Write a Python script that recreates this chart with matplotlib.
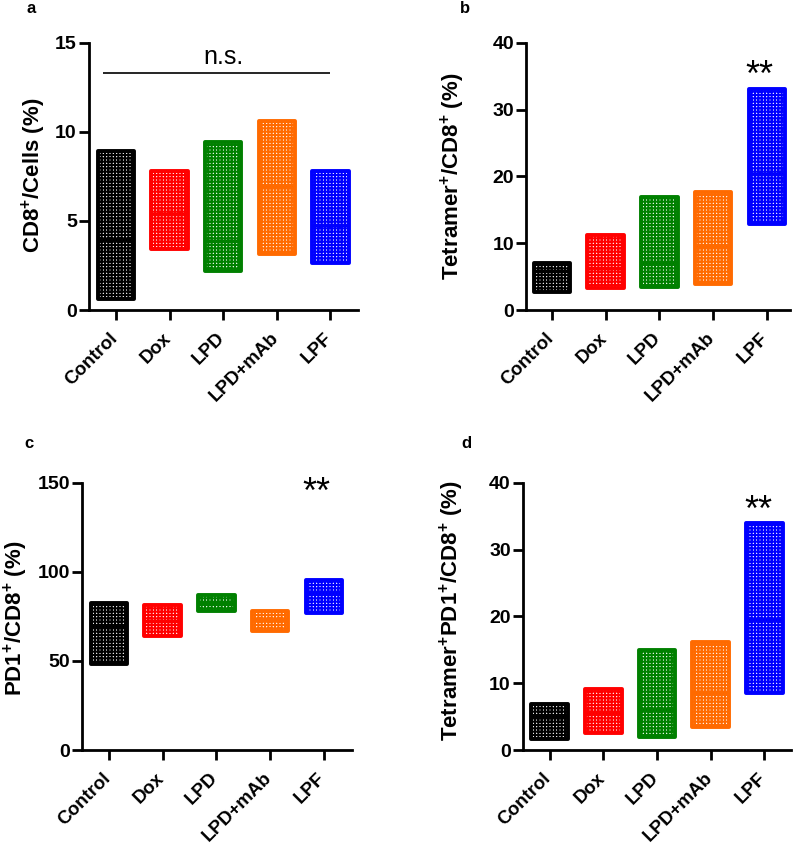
import matplotlib
matplotlib.use("Agg")
import matplotlib.pyplot as plt
import matplotlib.transforms as mtransforms
import numpy as np

plt.rcParams['font.family'] = ['Liberation Sans', 'DejaVu Sans']
plt.rcParams['mathtext.fontset'] = 'custom'
plt.rcParams['mathtext.rm'] = 'Liberation Sans:bold'
plt.rcParams['mathtext.bf'] = 'Liberation Sans:bold'
plt.rcParams['mathtext.default'] = 'bf'
plt.rcParams['hatch.linewidth'] = 1.5

groups = ["Control", "Dox", "LPD", "LPD+mAb", "LPF"]
colors = ["#000000", "#ff0000", "#008000", "#ff6a00", "#0000ff"]

# panel a: CD8+/Cells (%)
a_min = [0.6, 3.45, 2.2, 3.15, 2.65]
a_max = [8.9, 7.8, 9.45, 10.6, 7.8]
a_med = [3.95, 5.4, 3.9, 6.9, 4.75]

# panel b: Tetramer+/CD8+ (%)
b_min = [2.7, 3.3, 3.4, 3.9, 12.9]
b_max = [7.0, 11.2, 16.9, 17.6, 33.0]
b_med = [5.8, 6.3, 7.0, 9.6, 20.4]

# panel c: PD1+/CD8+ (%)
c_min = [48.5, 64.0, 77.8, 67.0, 77.0]
c_max = [82.5, 81.5, 87.2, 78.2, 95.5]
c_med = [69.5, 72.5, 82.5, 73.0, 88.5]

# panel d: Tetramer+PD1+/CD8+ (%)
d_min = [1.6, 2.5, 2.0, 3.5, 8.5]
d_max = [6.9, 9.1, 14.9, 16.2, 34.0]
d_med = [5.0, 5.7, 6.0, 8.7, 19.5]

fig = plt.figure(figsize=(7.96, 8.47), dpi=100)

panels = [
    dict(rect=[0.1114, 0.634, 0.3386, 0.3156], lo=a_min, hi=a_max, med=a_med,
         ylim=15, ticks=[0, 5, 10, 15], xlim=(-0.51, 4.52),
         ylabel=r'CD8$^{+}$/Cells (%)', letter='a', lpos=(0.033, 0.985),
         lab=(-0.15, 0.505)),
    dict(rect=[0.661, 0.634, 0.3315, 0.3156], lo=b_min, hi=b_max, med=b_med,
         ylim=40, ticks=[0, 10, 20, 30, 40], xlim=(-0.48, 4.43),
         ylabel=r'Tetramer$^{+}$/CD8$^{+}$ (%)', letter='b', lpos=(0.578, 0.985),
         lab=(-0.225, 0.5)),
    dict(rect=[0.1026, 0.1145, 0.3392, 0.3155], lo=c_min, hi=c_max, med=c_med,
         ylim=150, ticks=[0, 50, 100, 150], xlim=(-0.51, 4.52),
         ylabel=r'PD1$^{+}$/CD8$^{+}$ (%)', letter='c', lpos=(0.031, 0.471),
         lab=(-0.19, 0.494)),
    dict(rect=[0.6566, 0.1145, 0.3368, 0.3155], lo=d_min, hi=d_max, med=d_med,
         ylim=40, ticks=[0, 10, 20, 30, 40], xlim=(-0.50, 4.49),
         ylabel=r'Tetramer$^{+}$PD1$^{+}$/CD8$^{+}$ (%)', letter='d', lpos=(0.580, 0.471),
         lab=(-0.21, 0.52)),
]

x = np.arange(len(groups))
shift = mtransforms.ScaledTranslation(-5 / 72, -1.5 / 72, fig.dpi_scale_trans)
axes = []
for p in panels:
    ax = fig.add_axes(p['rect'])
    axes.append(ax)
    lo = np.array(p['lo']); hi = np.array(p['hi'])
    bars = ax.bar(x, hi - lo, bottom=lo, width=0.68, color='white',
                  edgecolor=colors, linewidth=2.8, hatch='+++++', zorder=2)
    for b in bars:
        b.set_joinstyle('round')
    for i in range(len(groups)):
        ax.hlines(p['med'][i], x[i] - 0.34, x[i] + 0.34, color=colors[i],
                  linewidth=2.5, zorder=3)
    ax.set_xlim(*p['xlim'])
    ax.set_ylim(0, p['ylim'])
    ax.set_yticks(p['ticks'])
    ax.set_xticks(x)
    ax.spines['top'].set_visible(False)
    ax.spines['right'].set_visible(False)
    ax.spines['left'].set_linewidth(2.0)
    ax.spines['bottom'].set_linewidth(2.0)
    ax.tick_params(axis='both', width=2.0, length=7.5)
    ax.tick_params(axis='y', pad=1)
    ax.tick_params(axis='x', pad=5)
    ax.set_xticklabels(groups, rotation=45, ha='right', va='top',
                       rotation_mode='anchor', fontsize=13.5, fontweight='bold')
    for lab in ax.get_xticklabels():
        lab.set_transform(lab.get_transform() + shift)
    for lab in ax.get_yticklabels():
        lab.set_fontweight('bold')
        lab.set_fontsize(14)
    ax.set_ylabel(p['ylabel'], fontsize=16, fontweight='bold')
    ax.yaxis.set_label_coords(*p['lab'])
    fig.text(p['lpos'][0], p['lpos'][1], p['letter'],
             fontsize=12, fontweight='bold', va='baseline')

# annotations
axes[0].hlines(13.3, -0.25, 4.0, color='black', linewidth=1.2)
axes[0].text(2.0, 14.2, 'n.s.', ha='center', va='center', fontsize=18)
axes[1].text(3.86, 35.0, '**', ha='center', va='center', fontsize=26)
axes[2].text(3.86, 144, '**', ha='center', va='center', fontsize=26)
axes[3].text(3.88, 35.7, '**', ha='center', va='center', fontsize=26)

fig.savefig('out.png', dpi=100)
